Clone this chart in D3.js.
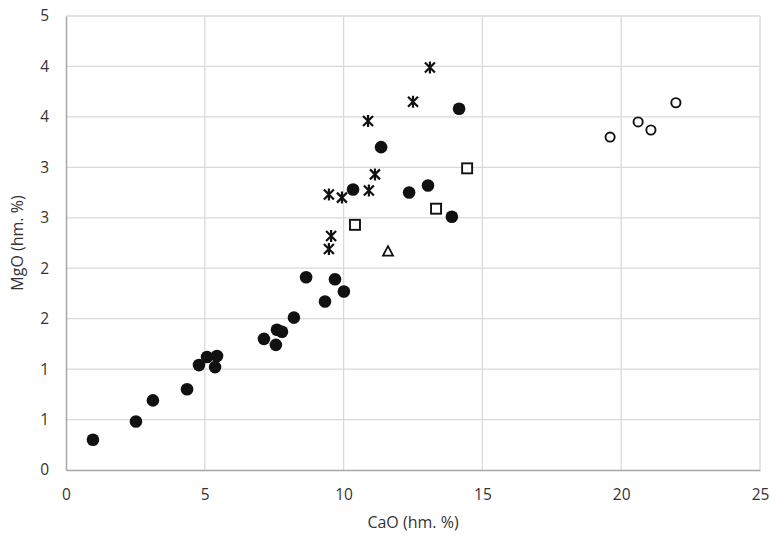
<html lang="en">
<head>
    <meta charset="UTF-8">
    <title>MgO vs CaO</title>
    <style>
        body { margin: 0; background: #fff; }
        text { font-family: "Open Sans", Lato, sans-serif; fill: #333; }
    </style>
</head>
<body>
    <script src="https://d3js.org/d3.v7.min.js"></script>
    <script>
      let width = 770
      let height = 543

      // data: CaO (x), MgO (y)
      let filledCaO = [0.97, 2.52, 3.13, 4.36, 4.79, 5.08, 5.44, 5.37, 7.13, 7.56, 7.60, 7.78, 8.21, 8.65, 9.33, 9.69, 10.01, 10.34, 11.35, 12.36, 13.04, 13.90, 14.16]
      let filledMgO = [0.30, 0.48, 0.69, 0.80, 1.04, 1.12, 1.13, 1.02, 1.30, 1.24, 1.39, 1.37, 1.51, 1.91, 1.67, 1.89, 1.77, 2.78, 3.20, 2.75, 2.82, 2.51, 3.58]
      let starCaO = [13.11, 12.50, 10.88, 11.13, 10.91, 9.47, 9.94, 9.55, 9.47]
      let starMgO = [3.99, 3.65, 3.46, 2.93, 2.77, 2.73, 2.70, 2.32, 2.19]
      let squareCaO = [14.45, 13.33, 10.41]
      let squareMgO = [2.99, 2.59, 2.43]
      let triangleCaO = [11.60]
      let triangleMgO = [2.17]
      let openCaO = [21.97, 20.61, 21.07, 19.60]
      let openMgO = [3.64, 3.45, 3.37, 3.30]

      let xTicks = [0, 5, 10, 15, 20, 25]
      let yTicks = [0, 0.5, 1, 1.5, 2, 2.5, 3, 3.5, 4, 4.5]

      let margin = {left: 66, right: 10, top: 16, bottom: 73}

      let svg = d3.select("body")
                  .append("svg")
                  .attr("width", width)
                  .attr("height", height)

      let x = d3.scaleLinear().domain([0, 25]).range([margin.left, width - margin.right])
      let y = d3.scaleLinear().domain([0, 4.5]).range([height - margin.bottom, margin.top])

      // gridlines
      svg.append("g").selectAll("line")
         .data(yTicks.slice(1))
         .enter().append("line")
         .attr("x1", x(0)).attr("x2", x(25))
         .attr("y1", d => y(d)).attr("y2", d => y(d))
         .attr("stroke", "#d9d9d9").attr("stroke-width", 1.3)
      svg.append("g").selectAll("line")
         .data(xTicks.slice(1))
         .enter().append("line")
         .attr("x1", d => x(d)).attr("x2", d => x(d))
         .attr("y1", y(0)).attr("y2", y(4.5))
         .attr("stroke", "#d9d9d9").attr("stroke-width", 1.3)

      // axes
      let xAxis = svg.append("g")
         .attr("transform", "translate(0," + y(0) + ")")
         .call(d3.axisBottom(x).tickValues(xTicks).tickSize(0).tickPadding(19))
      let yAxis = svg.append("g")
         .attr("transform", "translate(" + x(0) + ",0)")
         .call(d3.axisLeft(y).tickValues(yTicks).tickSize(0).tickPadding(17)
               .tickFormat(d => Math.round(d)))
      ;[xAxis, yAxis].forEach(function(a) {
        a.select(".domain").attr("stroke", "#a6a6a6").attr("stroke-width", 1.5)
        a.selectAll("text").attr("font-size", 15.5).attr("fill", "#333")
          .style("font-family", '"Open Sans", Lato, sans-serif')
      })

      function pairs(xs, ys) { return xs.map((v, i) => [v, ys[i]]) }

      // filled circles
      svg.append("g").selectAll("circle")
         .data(pairs(filledCaO, filledMgO))
         .enter().append("circle")
         .attr("cx", d => x(d[0])).attr("cy", d => y(d[1]))
         .attr("r", 6.3).attr("fill", "#111")

      // open circles
      svg.append("g").selectAll("circle")
         .data(pairs(openCaO, openMgO))
         .enter().append("circle")
         .attr("cx", d => x(d[0])).attr("cy", d => y(d[1]))
         .attr("r", 4.6).attr("fill", "#fff").attr("stroke", "#111").attr("stroke-width", 1.9)

      // squares
      svg.append("g").selectAll("rect")
         .data(pairs(squareCaO, squareMgO))
         .enter().append("rect")
         .attr("x", d => x(d[0]) - 5).attr("y", d => y(d[1]) - 5)
         .attr("width", 10).attr("height", 10)
         .attr("fill", "#fff").attr("stroke", "#111").attr("stroke-width", 1.9)

      // triangles
      svg.append("g").selectAll("path")
         .data(pairs(triangleCaO, triangleMgO))
         .enter().append("path")
         .attr("transform", d => "translate(" + x(d[0]) + "," + y(d[1]) + ")")
         .attr("d", "M0,-5L5,4.5L-5,4.5Z")
         .attr("fill", "#fff").attr("stroke", "#111").attr("stroke-width", 1.8)

      // stars (x with vertical bar)
      svg.append("g").selectAll("path")
         .data(pairs(starCaO, starMgO))
         .enter().append("path")
         .attr("transform", d => "translate(" + x(d[0]) + "," + y(d[1]) + ")")
         .attr("d", "M-5,-5L5,5M5,-5L-5,5M0,-6L0,6")
         .attr("fill", "none").attr("stroke", "#111").attr("stroke-width", 2.2)

      // axis titles
      svg.append("text")
         .attr("x", (x(0) + x(25)) / 2 + 0).attr("y", 528)
         .attr("text-anchor", "middle").attr("font-size", 16)
         .text("CaO (hm. %)")
      svg.append("text")
         .attr("transform", "translate(23," + ((y(0) + y(4.5)) / 2) + ") rotate(-90)")
         .attr("text-anchor", "middle").attr("font-size", 16)
         .text("MgO (hm. %)")
    </script>
</body>
</html>
